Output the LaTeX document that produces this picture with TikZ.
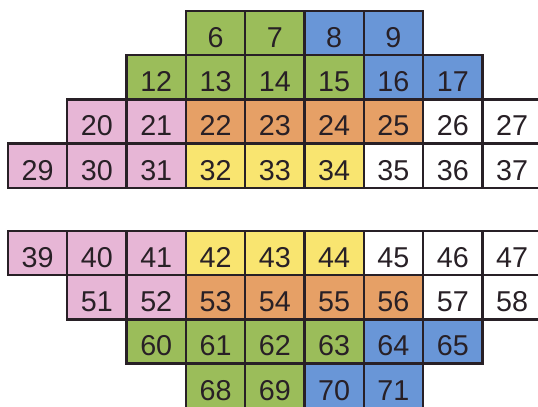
\documentclass[tikz,border=0pt]{standalone}
\usepackage{fontspec}
\setmainfont{Liberation Sans}
\usepackage{xcolor}
\definecolor{cgreen}{RGB}{155,189,90}
\definecolor{cblue}{RGB}{105,150,215}
\definecolor{cpink}{RGB}{231,182,214}
\definecolor{corange}{RGB}{230,160,102}
\definecolor{cyellow}{RGB}{249,229,112}
\definecolor{cline}{RGB}{40,32,38}

\begin{document}
\begin{tikzpicture}[
  x=0.03cm, y=-0.03cm,
  cell/.style={draw=cline, line width=2pt, minimum width=1.779cm, minimum height=1.326cm,
    inner sep=0pt, outer sep=0pt, text height=0.86cm, text depth=0pt,
    font=\fontsize{24.5}{27}\selectfont, text=cline}
]
  \useasboundingbox (0,0) rectangle (538,406);
  \clip (0,0) rectangle (538,406);

  % upper half
  \foreach \n/\col/\x/\y in {6/cgreen/3/0, 7/cgreen/4/0, 8/cblue/5/0, 9/cblue/6/0,
      12/cgreen/2/1, 13/cgreen/3/1, 14/cgreen/4/1, 15/cgreen/5/1, 16/cblue/6/1, 17/cblue/7/1,
      20/cpink/1/2, 21/cpink/2/2, 22/corange/3/2, 23/corange/4/2, 24/corange/5/2, 25/corange/6/2, 26/white/7/2, 27/white/8/2,
      29/cpink/0/3, 30/cpink/1/3, 31/cpink/2/3, 32/cyellow/3/3, 33/cyellow/4/3, 34/cyellow/5/3, 35/white/6/3, 36/white/7/3, 37/white/8/3}
    \node[cell, fill=\col] (c\n) at ({8+59.3*(\x+0.5)}, {11+44.2*(\y+0.5)}) {\n};

  % lower half
  \foreach \n/\col/\x/\y in {39/cpink/0/0, 40/cpink/1/0, 41/cpink/2/0, 42/cyellow/3/0, 43/cyellow/4/0, 44/cyellow/5/0, 45/white/6/0, 46/white/7/0, 47/white/8/0,
      51/cpink/1/1, 52/cpink/2/1, 53/corange/3/1, 54/corange/4/1, 55/corange/5/1, 56/corange/6/1, 57/white/7/1, 58/white/8/1,
      60/cgreen/2/2, 61/cgreen/3/2, 62/cgreen/4/2, 63/cgreen/5/2, 64/cblue/6/2, 65/cblue/7/2,
      68/cgreen/3/3, 69/cgreen/4/3, 70/cblue/5/3, 71/cblue/6/3}
    \node[cell, fill=\col] (c\n) at ({8+59.3*(\x+0.5)}, {231+44.2*(\y+0.5)}) {\n};
\end{tikzpicture}
\end{document}
